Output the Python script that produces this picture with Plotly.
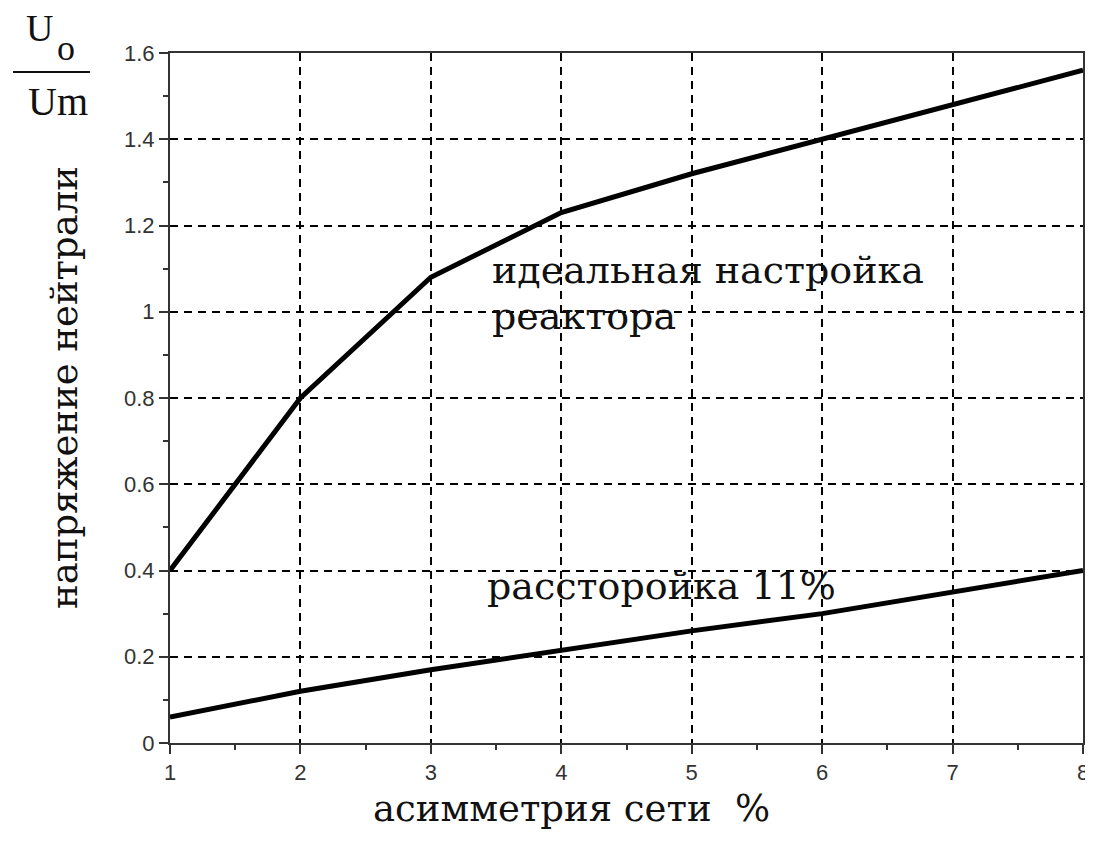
import plotly.graph_objects as go

# data
asym = [1, 2, 3, 4, 5, 6, 7, 8]
ideal = [0.40, 0.80, 1.08, 1.23, 1.32, 1.40, 1.48, 1.56]
detuned = [0.06, 0.12, 0.17, 0.215, 0.26, 0.30, 0.35, 0.40]
xticks = [1, 2, 3, 4, 5, 6, 7, 8]
yticks = [0, 0.2, 0.4, 0.6, 0.8, 1.0, 1.2, 1.4, 1.6]
ytick_text = ['0', '0.2', '0.4', '0.6', '0.8', '1', '1.2', '1.4', '1.6']

serif = 'DejaVu Serif'          # has Cyrillic with serifs
latin_serif = 'Liberation Serif'
sans = 'Liberation Sans'
ink = '#111'

# page has an 8px body margin; keep the page from scrolling
W, H = 1085, 829
L, R, T, B = 162, 10, 45, 94
PW, PH = W - L - R, H - T - B

fig = go.Figure()
for ys in (ideal, detuned):
    fig.add_trace(go.Scatter(x=asym, y=ys, mode='lines',
                             line=dict(color='black', width=5),
                             hoverinfo='skip'))

axis_common = dict(
    showline=True, linecolor='#333', linewidth=2, mirror=True,
    showgrid=True, gridcolor='black', gridwidth=1.5, griddash='8px,6px',
    ticks='outside', ticklen=9, tickwidth=2, tickcolor='#333',
    tickfont=dict(family=sans, size=22, color='#333'),
    zeroline=False, automargin=False,
)

fig.update_xaxes(range=[1, 8], tickvals=xticks, ticklabelstandoff=0,
                 minor=dict(ticks='outside', ticklen=5, tickwidth=2,
                            tickcolor='#333', dtick=0.5, showgrid=False),
                 **axis_common)
fig.update_yaxes(range=[0, 1.6], tickvals=yticks, ticktext=ytick_text,
                 minor=dict(ticks='outside', ticklen=5, tickwidth=2,
                            tickcolor='#333', dtick=0.1, showgrid=False),
                 **axis_common)

fig.update_layout(
    width=W, height=H,
    margin=dict(l=L, r=R, t=T, b=B),
    plot_bgcolor='white', paper_bgcolor='white',
    showlegend=False,
)


# reference page pixels -> paper coords
def px(x):
    return (x - 8 - L) / PW


def py(y):
    return 1 - (y - 8 - T) / PH


def note(text, x, y, size, xanchor='left', angle=0, family=serif):
    fig.add_annotation(x=px(x), y=py(y), xref='paper', yref='paper',
                       xanchor=xanchor, yanchor='middle', showarrow=False,
                       text=text, textangle=angle,
                       font=dict(family=family, size=size, color=ink))


# labels inside the plot
note('идеальная настройка', 490, 270, 38)
note('реактора', 490, 316, 38)
note('рассторойка 11%', 485, 586, 38)

# axis titles
note('асимметрия сети&nbsp;&nbsp;%', 371, 808, 37)
note('напряжение нейтрали', 65, 388, 37, xanchor='center', angle=-90)

# U_o / U_m fraction
note('U', 39, 28, 38, xanchor='center', family=latin_serif)
note('o', 66, 48, 36, xanchor='center', family=latin_serif)
note('Um', 58, 102, 40, xanchor='center', family=latin_serif)
fig.add_shape(type='line', xref='paper', yref='paper',
              x0=px(13), x1=px(90), y0=py(72), y1=py(72),
              line=dict(color=ink, width=2))

fig.write_html('out.html')
